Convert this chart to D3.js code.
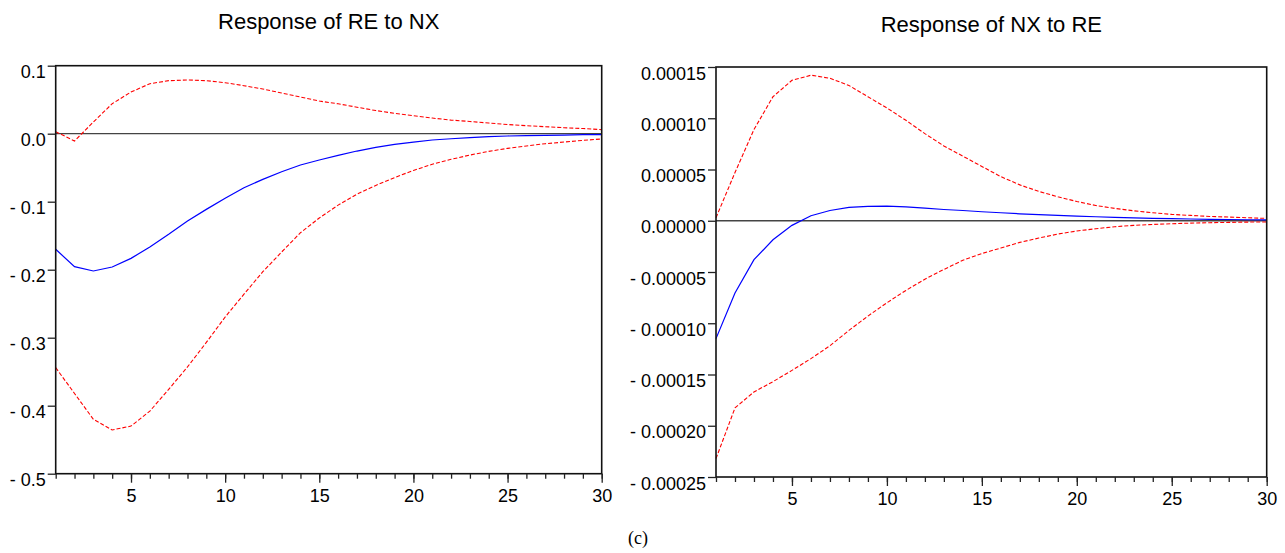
<!DOCTYPE html>
<html>
<head>
<meta charset="utf-8">
<script src="https://cdn.jsdelivr.net/npm/d3@7"></script>
<style>
  body { margin: 0; background: #fff; }
  svg { display: block; }
  text { font-family: "Liberation Sans", Arial, sans-serif; fill: #000; }
</style>
</head>
<body>
<div id="chart"></div>
<script>
// periods 1..30
const periods = d3.range(1, 31)

// Response of RE to NX
const reToNx = [-0.170, -0.1956, -0.2019, -0.196, -0.1833, -0.1666, -0.148, -0.1284, -0.1113, -0.095,
  -0.0794, -0.0671, -0.0559, -0.046, -0.0387, -0.0319, -0.0255, -0.0201, -0.0157, -0.0123,
  -0.0093, -0.0074, -0.0059, -0.0044, -0.0034, -0.0029, -0.0025, -0.002, -0.0015, -0.0015]
const reToNxUpper = [0.003, -0.0107, 0.0172, 0.0441, 0.0613, 0.0735, 0.078, 0.079, 0.078, 0.075,
  0.0706, 0.0657, 0.0598, 0.054, 0.048, 0.044, 0.039, 0.034, 0.030, 0.0265,
  0.023, 0.020, 0.018, 0.0157, 0.0135, 0.0118, 0.0103, 0.0088, 0.0076, 0.006]
const reToNxLower = [-0.344, -0.382, -0.420, -0.4357, -0.430, -0.408, -0.376, -0.343, -0.307, -0.2696,
  -0.236, -0.203, -0.174, -0.1456, -0.124, -0.105, -0.089, -0.076, -0.0645, -0.054,
  -0.045, -0.0377, -0.0314, -0.026, -0.0216, -0.0181, -0.0147, -0.0123, -0.0098, -0.0078]
const reTicks = [0.1, 0, -0.1, -0.2, -0.3, -0.4, -0.5]

// Response of NX to RE
const nxToRe = [-11.5e-5, -7.05e-5, -3.8e-5, -1.85e-5, -0.45e-5, 0.49e-5, 1.0e-5, 1.3e-5, 1.4e-5, 1.43e-5,
  1.36e-5, 1.23e-5, 1.1e-5, 1.0e-5, 0.88e-5, 0.78e-5, 0.68e-5, 0.6e-5, 0.52e-5, 0.45e-5,
  0.39e-5, 0.33e-5, 0.28e-5, 0.24e-5, 0.2e-5, 0.17e-5, 0.14e-5, 0.12e-5, 0.1e-5, 0.08e-5]
const nxToReUpper = [0.3e-5, 4.7e-5, 8.9e-5, 12.1e-5, 13.7e-5, 14.2e-5, 13.9e-5, 13.2e-5, 12.1e-5, 11.0e-5,
  9.8e-5, 8.5e-5, 7.3e-5, 6.3e-5, 5.3e-5, 4.3e-5, 3.5e-5, 2.86e-5, 2.34e-5, 1.88e-5,
  1.49e-5, 1.2e-5, 0.97e-5, 0.78e-5, 0.62e-5, 0.52e-5, 0.42e-5, 0.36e-5, 0.29e-5, 0.23e-5]
const nxToReLower = [-23.2e-5, -18.26e-5, -16.7e-5, -15.7e-5, -14.6e-5, -13.45e-5, -12.2e-5, -10.7e-5, -9.3e-5, -8.0e-5,
  -6.8e-5, -5.7e-5, -4.75e-5, -3.85e-5, -3.2e-5, -2.66e-5, -2.11e-5, -1.69e-5, -1.3e-5, -1.0e-5,
  -0.78e-5, -0.58e-5, -0.45e-5, -0.36e-5, -0.29e-5, -0.23e-5, -0.19e-5, -0.16e-5, -0.13e-5, -0.12e-5]
const nxTicks = [0.00015, 0.0001, 0.00005, 0, -0.00005, -0.0001, -0.00015, -0.0002, -0.00025]

const xLabels = [5, 10, 15, 20, 25, 30]

const panels = [
  { title: "Response of RE to NX", mid: reToNx, upper: reToNxUpper, lower: reToNxLower,
    ticks: reTicks, fmt: d3.format(".1f"),
    box: { left: 55.7, right: 601.7, top: 65.7, bottom: 473.7 }, titleY: 29 },
  { title: "Response of NX to RE", mid: nxToRe, upper: nxToReUpper, lower: nxToReLower,
    ticks: nxTicks, fmt: d3.format(".5f"),
    box: { left: 716, right: 1266.7, top: 67, bottom: 477 }, titleY: 32 }
]

const svg = d3.select("#chart").append("svg")
  .attr("width", 1285)
  .attr("height", 553)

function signed(fmt) {
  return d => d < 0 ? "- " + fmt(-d) : fmt(Math.abs(d))
}

function drawPanel(p) {
  const b = p.box
  const x = d3.scaleLinear().domain([1, 30]).range([b.left, b.right])
  const y = d3.scaleLinear().domain(d3.extent(p.ticks)).range([b.bottom, b.top])

  const g = svg.append("g")

  // title
  g.append("text")
    .attr("x", (b.left + b.right) / 2)
    .attr("y", p.titleY)
    .attr("text-anchor", "middle")
    .style("font-size", "22px")
    .text(p.title)

  // zero line
  g.append("line")
    .attr("x1", b.left).attr("x2", b.right)
    .attr("y1", y(0)).attr("y2", y(0))
    .attr("stroke", "#444").attr("stroke-width", 1.3)

  const line = d3.line()
    .x((d, i) => x(periods[i]))
    .y(d => y(d))

  // confidence bands
  ;[p.upper, p.lower].forEach(s => {
    g.append("path")
      .attr("d", line(s))
      .attr("fill", "none")
      .attr("stroke", "#ff0000")
      .attr("stroke-width", 1.1)
      .attr("stroke-dasharray", "4,2")
  })

  g.append("path")
    .attr("d", line(p.mid))
    .attr("fill", "none")
    .attr("stroke", "#0000ff")
    .attr("stroke-width", 1.2)

  // frame
  g.append("rect")
    .attr("x", b.left).attr("y", b.top)
    .attr("width", b.right - b.left).attr("height", b.bottom - b.top)
    .attr("fill", "none")
    .attr("stroke", "#111").attr("stroke-width", 1.6)

  // y axis
  const yAxis = g.append("g")
    .attr("transform", `translate(${b.left},0)`)
    .call(d3.axisLeft(y).tickValues(p.ticks).tickFormat(signed(p.fmt)).tickSize(8).tickSizeOuter(0).tickPadding(2))
  yAxis.select(".domain").remove()
  yAxis.selectAll("line").attr("stroke", "#222").attr("stroke-width", 1.3)
  yAxis.selectAll("text")
    .attr("dy", 12)
    .attr("fill", "#000")
    .style("font-family", "'Liberation Sans', Arial, sans-serif")
    .style("font-size", "18px")

  // x axis: minor ticks every period, major ticks with labels
  const xMinor = g.append("g")
    .attr("transform", `translate(0,${b.bottom})`)
    .call(d3.axisBottom(x).tickValues(periods).tickSize(5).tickFormat(""))
  xMinor.select(".domain").remove()
  xMinor.selectAll("line").attr("stroke", "#222").attr("stroke-width", 1.3)

  const xMajor = g.append("g")
    .attr("transform", `translate(0,${b.bottom})`)
    .call(d3.axisBottom(x).tickValues(xLabels).tickSize(9).tickPadding(4))
  xMajor.select(".domain").remove()
  xMajor.selectAll("line").attr("stroke", "#222").attr("stroke-width", 1.3)
  xMajor.selectAll("text")
    .attr("dy", 15)
    .attr("fill", "#000")
    .style("font-family", "'Liberation Sans', Arial, sans-serif")
    .style("font-size", "18px")
}

panels.forEach(drawPanel)

svg.append("text")
  .attr("x", 638)
  .attr("y", 544)
  .attr("text-anchor", "middle")
  .style("font-family", "'Liberation Serif', 'Times New Roman', serif")
  .style("font-size", "18px")
  .text("(c)")
</script>
</body>
</html>
